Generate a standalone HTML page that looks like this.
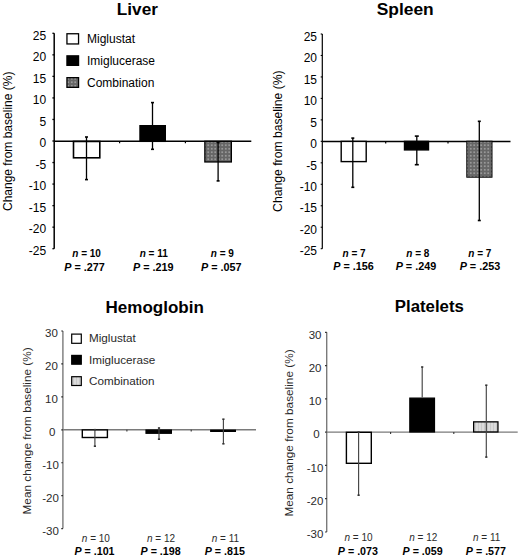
<!DOCTYPE html><html><head><meta charset="utf-8"><style>html,body{margin:0;padding:0;background:#fff;width:520px;height:559px;overflow:hidden}svg{display:block}text{font-family:"Liberation Sans", sans-serif}</style></head><body>
<svg width="520" height="559" viewBox="0 0 520 559">
<defs>
<pattern id="dk" width="3.5" height="3.5" patternUnits="userSpaceOnUse"><rect width="3.5" height="3.5" fill="#666"/><rect x="1" y="1" width="1.5" height="1.5" fill="#aaa"/></pattern>
<pattern id="lt" width="3" height="3" patternUnits="userSpaceOnUse"><rect width="3" height="3" fill="#dcdcdc"/><rect x="1" y="0" width="1" height="3" fill="#cacaca"/></pattern>
</defs>
<text x="137.4" y="15" font-size="17.2" font-weight="bold" text-anchor="middle" fill="#000" >Liver</text>
<line x1="54.2" y1="33.3" x2="54.2" y2="248.7" stroke="#000" stroke-width="1.5"/>
<line x1="52.400000000000006" y1="33.3" x2="54.2" y2="33.3" stroke="#000" stroke-width="1.3"/>
<text x="46.1" y="39.6" font-size="12" font-weight="normal" text-anchor="end" fill="#000" >25</text>
<line x1="52.400000000000006" y1="54.839999999999996" x2="54.2" y2="54.839999999999996" stroke="#000" stroke-width="1.3"/>
<text x="46.1" y="61.14" font-size="12" font-weight="normal" text-anchor="end" fill="#000" >20</text>
<line x1="52.400000000000006" y1="76.38" x2="54.2" y2="76.38" stroke="#000" stroke-width="1.3"/>
<text x="46.1" y="82.68" font-size="12" font-weight="normal" text-anchor="end" fill="#000" >15</text>
<line x1="52.400000000000006" y1="97.92" x2="54.2" y2="97.92" stroke="#000" stroke-width="1.3"/>
<text x="46.1" y="104.22" font-size="12" font-weight="normal" text-anchor="end" fill="#000" >10</text>
<line x1="52.400000000000006" y1="119.46" x2="54.2" y2="119.46" stroke="#000" stroke-width="1.3"/>
<text x="46.1" y="125.76" font-size="12" font-weight="normal" text-anchor="end" fill="#000" >5</text>
<line x1="52.400000000000006" y1="141.0" x2="54.2" y2="141.0" stroke="#000" stroke-width="1.3"/>
<text x="46.1" y="147.3" font-size="12" font-weight="normal" text-anchor="end" fill="#000" >0</text>
<line x1="52.400000000000006" y1="162.54000000000002" x2="54.2" y2="162.54000000000002" stroke="#000" stroke-width="1.3"/>
<text x="46.1" y="168.84" font-size="12" font-weight="normal" text-anchor="end" fill="#000" >-5</text>
<line x1="52.400000000000006" y1="184.07999999999998" x2="54.2" y2="184.07999999999998" stroke="#000" stroke-width="1.3"/>
<text x="46.1" y="190.38" font-size="12" font-weight="normal" text-anchor="end" fill="#000" >-10</text>
<line x1="52.400000000000006" y1="205.62" x2="54.2" y2="205.62" stroke="#000" stroke-width="1.3"/>
<text x="46.1" y="211.92" font-size="12" font-weight="normal" text-anchor="end" fill="#000" >-15</text>
<line x1="52.400000000000006" y1="227.15999999999997" x2="54.2" y2="227.15999999999997" stroke="#000" stroke-width="1.3"/>
<text x="46.1" y="233.46" font-size="12" font-weight="normal" text-anchor="end" fill="#000" >-20</text>
<line x1="52.400000000000006" y1="248.7" x2="54.2" y2="248.7" stroke="#000" stroke-width="1.3"/>
<text x="46.1" y="255.0" font-size="12" font-weight="normal" text-anchor="end" fill="#000" >-25</text>
<line x1="54.2" y1="141.35" x2="251.3" y2="141.35" stroke="#000" stroke-width="1.5"/>
<line x1="119.6" y1="141.35" x2="119.6" y2="143.35" stroke="#000" stroke-width="1.2"/>
<line x1="185.4" y1="141.35" x2="185.4" y2="143.35" stroke="#000" stroke-width="1.2"/>
<text transform="translate(12.3,141.3) rotate(-90)" x="0" y="0" font-size="12" text-anchor="middle">Change from baseline (%)</text>
<rect x="66.95" y="33.75" width="11.60" height="10.20" fill="#fff" stroke="#000" stroke-width="1.3"/>
<rect x="66.95" y="55.85" width="11.60" height="9.50" fill="#000" stroke="#000" stroke-width="1.3"/>
<rect x="66.95" y="77.65" width="11.60" height="9.70" fill="url(#dk)" stroke="#000" stroke-width="1.3"/>
<text x="87.0" y="43" font-size="12" font-weight="normal" text-anchor="start" fill="#000" >Miglustat</text>
<text x="87.0" y="65" font-size="12" font-weight="normal" text-anchor="start" fill="#000" >Imiglucerase</text>
<text x="87.0" y="87" font-size="12" font-weight="normal" text-anchor="start" fill="#000" >Combination</text>
<rect x="73.50" y="141.45" width="26.30" height="16.35" fill="#fff" stroke="#000" stroke-width="1.6"/>
<line x1="86.5" y1="137.0" x2="86.5" y2="179.6" stroke="#000" stroke-width="1.3"/>
<rect x="85.00" y="136.20" width="3" height="1.6" fill="#000"/>
<rect x="85.00" y="178.80" width="3" height="1.6" fill="#000"/>
<rect x="139.95" y="125.65" width="25.40" height="15.75" fill="#000" stroke="#000" stroke-width="1.3"/>
<line x1="152.5" y1="102.6" x2="152.5" y2="149.3" stroke="#000" stroke-width="1.3"/>
<rect x="151.00" y="101.80" width="3" height="1.6" fill="#000"/>
<rect x="151.00" y="148.50" width="3" height="1.6" fill="#000"/>
<rect x="204.85" y="141.30" width="26.50" height="20.65" fill="url(#dk)" stroke="#000" stroke-width="1.3"/>
<line x1="218.1" y1="142.5" x2="218.1" y2="180.9" stroke="#000" stroke-width="1.3"/>
<rect x="216.60" y="141.70" width="3" height="1.6" fill="#000"/>
<rect x="216.60" y="180.10" width="3" height="1.6" fill="#000"/>
<text x="86.60" y="257.3" font-size="10" font-weight="bold" text-anchor="middle"><tspan font-style="italic">n</tspan> = 10</text>
<text x="84.60" y="270.6" font-size="10.8" font-weight="bold" text-anchor="middle"><tspan font-style="italic">P</tspan> = .277</text>
<text x="153.70" y="257.3" font-size="10" font-weight="bold" text-anchor="middle"><tspan font-style="italic">n</tspan> = 11</text>
<text x="153.30" y="270.6" font-size="10.8" font-weight="bold" text-anchor="middle"><tspan font-style="italic">P</tspan> = .219</text>
<text x="222.30" y="257.3" font-size="10" font-weight="bold" text-anchor="middle"><tspan font-style="italic">n</tspan> = 9</text>
<text x="221.30" y="270.6" font-size="10.8" font-weight="bold" text-anchor="middle"><tspan font-style="italic">P</tspan> = .057</text>
<text x="405.2" y="14.6" font-size="17.4" font-weight="bold" text-anchor="middle" fill="#000" >Spleen</text>
<line x1="322.3" y1="34.0" x2="322.3" y2="248.7" stroke="#000" stroke-width="1.2"/>
<line x1="320.7" y1="34.0" x2="322.3" y2="34.0" stroke="#000" stroke-width="1.1"/>
<text x="317.0" y="40.7" font-size="12" font-weight="normal" text-anchor="end" fill="#000" >25</text>
<line x1="320.7" y1="55.47" x2="322.3" y2="55.47" stroke="#000" stroke-width="1.1"/>
<text x="317.0" y="62.17" font-size="12" font-weight="normal" text-anchor="end" fill="#000" >20</text>
<line x1="320.7" y1="76.94" x2="322.3" y2="76.94" stroke="#000" stroke-width="1.1"/>
<text x="317.0" y="83.64" font-size="12" font-weight="normal" text-anchor="end" fill="#000" >15</text>
<line x1="320.7" y1="98.41" x2="322.3" y2="98.41" stroke="#000" stroke-width="1.1"/>
<text x="317.0" y="105.11" font-size="12" font-weight="normal" text-anchor="end" fill="#000" >10</text>
<line x1="320.7" y1="119.88" x2="322.3" y2="119.88" stroke="#000" stroke-width="1.1"/>
<text x="317.0" y="126.58" font-size="12" font-weight="normal" text-anchor="end" fill="#000" >5</text>
<line x1="320.7" y1="141.35" x2="322.3" y2="141.35" stroke="#000" stroke-width="1.1"/>
<text x="317.0" y="148.05" font-size="12" font-weight="normal" text-anchor="end" fill="#000" >0</text>
<line x1="320.7" y1="162.82" x2="322.3" y2="162.82" stroke="#000" stroke-width="1.1"/>
<text x="317.0" y="169.52" font-size="12" font-weight="normal" text-anchor="end" fill="#000" >-5</text>
<line x1="320.7" y1="184.29" x2="322.3" y2="184.29" stroke="#000" stroke-width="1.1"/>
<text x="317.0" y="190.99" font-size="12" font-weight="normal" text-anchor="end" fill="#000" >-10</text>
<line x1="320.7" y1="205.76" x2="322.3" y2="205.76" stroke="#000" stroke-width="1.1"/>
<text x="317.0" y="212.46" font-size="12" font-weight="normal" text-anchor="end" fill="#000" >-15</text>
<line x1="320.7" y1="227.23" x2="322.3" y2="227.23" stroke="#000" stroke-width="1.1"/>
<text x="317.0" y="233.93" font-size="12" font-weight="normal" text-anchor="end" fill="#000" >-20</text>
<line x1="320.7" y1="248.7" x2="322.3" y2="248.7" stroke="#000" stroke-width="1.1"/>
<text x="317.0" y="255.4" font-size="12" font-weight="normal" text-anchor="end" fill="#000" >-25</text>
<line x1="322.3" y1="141.4" x2="510.5" y2="141.4" stroke="#000" stroke-width="1.5"/>
<line x1="385.7" y1="141.4" x2="385.7" y2="143.4" stroke="#000" stroke-width="1.2"/>
<line x1="448.0" y1="141.4" x2="448.0" y2="143.4" stroke="#000" stroke-width="1.2"/>
<text transform="translate(281.5,141.1) rotate(-90)" x="0" y="0" font-size="12.2" text-anchor="middle">Change from baseline (%)</text>
<rect x="341.20" y="141.40" width="25.00" height="20.20" fill="#fff" stroke="#000" stroke-width="1.4"/>
<line x1="352.8" y1="138.1" x2="352.8" y2="187.3" stroke="#000" stroke-width="1.3"/>
<rect x="351.30" y="137.30" width="3" height="1.6" fill="#000"/>
<rect x="351.30" y="186.50" width="3" height="1.6" fill="#000"/>
<rect x="404.45" y="141.35" width="24.10" height="8.60" fill="#000" stroke="#000" stroke-width="1.3"/>
<line x1="416.8" y1="136.1" x2="416.8" y2="164.7" stroke="#000" stroke-width="1.3"/>
<rect x="414.80" y="135.30" width="4" height="1.6" fill="#000"/>
<rect x="414.80" y="163.90" width="4" height="1.6" fill="#000"/>
<rect x="466.80" y="141.20" width="25.20" height="36.00" fill="url(#dk)" stroke="#000" stroke-width="1.0"/>
<line x1="479.3" y1="121.3" x2="479.3" y2="220.5" stroke="#000" stroke-width="1.3"/>
<rect x="477.80" y="120.50" width="3" height="1.6" fill="#000"/>
<rect x="477.80" y="219.70" width="3" height="1.6" fill="#000"/>
<text x="354.10" y="257.3" font-size="10" font-weight="bold" text-anchor="middle"><tspan font-style="italic">n</tspan> = 7</text>
<text x="353.60" y="270.3" font-size="10.8" font-weight="bold" text-anchor="middle"><tspan font-style="italic">P</tspan> = .156</text>
<text x="417.80" y="257.3" font-size="10" font-weight="bold" text-anchor="middle"><tspan font-style="italic">n</tspan> = 8</text>
<text x="415.90" y="270.3" font-size="10.8" font-weight="bold" text-anchor="middle"><tspan font-style="italic">P</tspan> = .249</text>
<text x="479.90" y="257.3" font-size="10" font-weight="bold" text-anchor="middle"><tspan font-style="italic">n</tspan> = 7</text>
<text x="479.90" y="270.3" font-size="10.8" font-weight="bold" text-anchor="middle"><tspan font-style="italic">P</tspan> = .253</text>
<text x="154.7" y="312.5" font-size="17" font-weight="bold" text-anchor="middle" fill="#000" >Hemoglobin</text>
<line x1="62.9" y1="331.0" x2="62.9" y2="528.6" stroke="#7a7a7a" stroke-width="1.4"/>
<line x1="61.3" y1="331.0" x2="62.9" y2="331.0" stroke="#222" stroke-width="1.2"/>
<text x="57.9" y="337.2" font-size="11.5" font-weight="normal" text-anchor="end" fill="#2a2a2a" >30</text>
<line x1="61.3" y1="363.93333333333334" x2="62.9" y2="363.93333333333334" stroke="#222" stroke-width="1.2"/>
<text x="57.9" y="370.13" font-size="11.5" font-weight="normal" text-anchor="end" fill="#2a2a2a" >20</text>
<line x1="61.3" y1="396.8666666666667" x2="62.9" y2="396.8666666666667" stroke="#222" stroke-width="1.2"/>
<text x="57.9" y="403.07" font-size="11.5" font-weight="normal" text-anchor="end" fill="#2a2a2a" >10</text>
<line x1="61.3" y1="429.8" x2="62.9" y2="429.8" stroke="#222" stroke-width="1.2"/>
<text x="55.5" y="436.0" font-size="11.5" font-weight="normal" text-anchor="end" fill="#2a2a2a" >0</text>
<line x1="61.3" y1="462.73333333333335" x2="62.9" y2="462.73333333333335" stroke="#222" stroke-width="1.2"/>
<text x="58.9" y="468.93" font-size="11.5" font-weight="normal" text-anchor="end" fill="#2a2a2a" >-10</text>
<line x1="61.3" y1="495.6666666666667" x2="62.9" y2="495.6666666666667" stroke="#222" stroke-width="1.2"/>
<text x="58.9" y="501.87" font-size="11.5" font-weight="normal" text-anchor="end" fill="#2a2a2a" >-20</text>
<line x1="61.3" y1="528.6" x2="62.9" y2="528.6" stroke="#222" stroke-width="1.2"/>
<text x="58.9" y="534.8" font-size="11.5" font-weight="normal" text-anchor="end" fill="#2a2a2a" >-30</text>
<line x1="62.9" y1="429.7" x2="256" y2="429.7" stroke="#7a7a7a" stroke-width="1.4"/>
<line x1="126.9" y1="429.7" x2="126.9" y2="431.5" stroke="#333" stroke-width="1.1"/>
<line x1="191.2" y1="429.7" x2="191.2" y2="431.5" stroke="#333" stroke-width="1.1"/>
<text transform="translate(31.4,430.9) rotate(-90)" x="0" y="0" font-size="11.8" text-anchor="middle" fill="#2a2a2a">Mean change from baseline (%)</text>
<rect x="71.70" y="334.10" width="9.60" height="9.20" fill="#fff" stroke="#000" stroke-width="1.2"/>
<rect x="71.70" y="355.40" width="9.60" height="8.80" fill="#000" stroke="#000" stroke-width="1.2"/>
<rect x="71.70" y="376.70" width="9.60" height="8.80" fill="url(#lt)" stroke="#000" stroke-width="1.2"/>
<text x="89.0" y="342.4" font-size="11.7" font-weight="normal" text-anchor="start" fill="#2a2a2a" >Miglustat</text>
<text x="89.0" y="363.5" font-size="11.7" font-weight="normal" text-anchor="start" fill="#2a2a2a" >Imiglucerase</text>
<text x="89.0" y="384.6" font-size="11.7" font-weight="normal" text-anchor="start" fill="#2a2a2a" >Combination</text>
<rect x="82.30" y="429.90" width="25.10" height="7.60" fill="#fff" stroke="#000" stroke-width="1.4"/>
<line x1="94.9" y1="429.7" x2="94.9" y2="446.2" stroke="#444" stroke-width="1.15"/>
<rect x="93.80" y="428.90" width="2.2" height="1.6" fill="#333"/>
<rect x="93.80" y="445.40" width="2.2" height="1.6" fill="#333"/>
<rect x="146.05" y="430.05" width="25.30" height="3.20" fill="#000" stroke="#000" stroke-width="1.3"/>
<line x1="159.0" y1="428.0" x2="159.0" y2="439.2" stroke="#444" stroke-width="1.15"/>
<rect x="157.90" y="427.20" width="2.2" height="1.6" fill="#333"/>
<rect x="157.90" y="438.40" width="2.2" height="1.6" fill="#333"/>
<rect x="210.10" y="429.60" width="25.90" height="2.40" fill="#000"/>
<line x1="223.4" y1="419.2" x2="223.4" y2="443.8" stroke="#444" stroke-width="1.15"/>
<rect x="222.30" y="418.40" width="2.2" height="1.6" fill="#333"/>
<rect x="222.30" y="443.00" width="2.2" height="1.6" fill="#333"/>
<text x="95.90" y="541.9" font-size="10" text-anchor="middle" fill="#2a2a2a"><tspan font-style="italic">n</tspan> = 10</text>
<text x="94.50" y="555.1" font-size="10.7" font-weight="bold" text-anchor="middle"><tspan font-style="italic">P</tspan> = .101</text>
<text x="161.00" y="541.9" font-size="10" text-anchor="middle" fill="#2a2a2a"><tspan font-style="italic">n</tspan> = 12</text>
<text x="160.60" y="555.1" font-size="10.7" font-weight="bold" text-anchor="middle"><tspan font-style="italic">P</tspan> = .198</text>
<text x="225.40" y="541.9" font-size="10" text-anchor="middle" fill="#2a2a2a"><tspan font-style="italic">n</tspan> = 11</text>
<text x="224.80" y="555.1" font-size="10.7" font-weight="bold" text-anchor="middle"><tspan font-style="italic">P</tspan> = .815</text>
<text x="429.3" y="311.6" font-size="16.8" font-weight="bold" text-anchor="middle" fill="#000" >Platelets</text>
<line x1="326.7" y1="332.3" x2="326.7" y2="532.0" stroke="#7a7a7a" stroke-width="1.4"/>
<line x1="325.09999999999997" y1="332.3" x2="326.7" y2="332.3" stroke="#222" stroke-width="1.2"/>
<text x="321.5" y="338.6" font-size="11.5" font-weight="normal" text-anchor="end" fill="#2a2a2a" >30</text>
<line x1="325.09999999999997" y1="365.58333333333337" x2="326.7" y2="365.58333333333337" stroke="#222" stroke-width="1.2"/>
<text x="321.5" y="371.88" font-size="11.5" font-weight="normal" text-anchor="end" fill="#2a2a2a" >20</text>
<line x1="325.09999999999997" y1="398.8666666666667" x2="326.7" y2="398.8666666666667" stroke="#222" stroke-width="1.2"/>
<text x="321.5" y="405.17" font-size="11.5" font-weight="normal" text-anchor="end" fill="#2a2a2a" >10</text>
<line x1="325.09999999999997" y1="432.15" x2="326.7" y2="432.15" stroke="#222" stroke-width="1.2"/>
<text x="319.6" y="438.45" font-size="11.5" font-weight="normal" text-anchor="end" fill="#2a2a2a" >0</text>
<line x1="325.09999999999997" y1="465.43333333333334" x2="326.7" y2="465.43333333333334" stroke="#222" stroke-width="1.2"/>
<text x="323.4" y="471.73" font-size="11.5" font-weight="normal" text-anchor="end" fill="#2a2a2a" >-10</text>
<line x1="325.09999999999997" y1="498.7166666666667" x2="326.7" y2="498.7166666666667" stroke="#222" stroke-width="1.2"/>
<text x="323.4" y="505.02" font-size="11.5" font-weight="normal" text-anchor="end" fill="#2a2a2a" >-20</text>
<line x1="325.09999999999997" y1="532.0" x2="326.7" y2="532.0" stroke="#222" stroke-width="1.2"/>
<text x="323.4" y="538.3" font-size="11.5" font-weight="normal" text-anchor="end" fill="#2a2a2a" >-30</text>
<line x1="326.7" y1="432.1" x2="517.7" y2="432.1" stroke="#7a7a7a" stroke-width="1.4"/>
<line x1="390.6" y1="432.1" x2="390.6" y2="433.90000000000003" stroke="#333" stroke-width="1.1"/>
<line x1="453.8" y1="432.1" x2="453.8" y2="433.90000000000003" stroke="#333" stroke-width="1.1"/>
<text transform="translate(292.5,433.0) rotate(-90)" x="0" y="0" font-size="11.8" text-anchor="middle" fill="#2a2a2a">Mean change from baseline (%)</text>
<rect x="346.40" y="432.30" width="24.90" height="31.00" fill="#fff" stroke="#000" stroke-width="1.4"/>
<line x1="358.6" y1="432.1" x2="358.6" y2="495.2" stroke="#444" stroke-width="1.15"/>
<rect x="357.50" y="431.30" width="2.2" height="1.6" fill="#333"/>
<rect x="357.50" y="494.40" width="2.2" height="1.6" fill="#333"/>
<rect x="409.85" y="398.15" width="24.60" height="33.80" fill="#000" stroke="#000" stroke-width="1.3"/>
<line x1="422.2" y1="367.0" x2="422.2" y2="397.5" stroke="#444" stroke-width="1.15"/>
<rect x="421.10" y="366.20" width="2.2" height="1.6" fill="#333"/>
<rect x="473.65" y="421.85" width="24.30" height="10.10" fill="url(#lt)" stroke="#000" stroke-width="1.3"/>
<line x1="486.3" y1="385.2" x2="486.3" y2="457.1" stroke="#444" stroke-width="1.15"/>
<rect x="485.20" y="384.40" width="2.2" height="1.6" fill="#333"/>
<rect x="485.20" y="456.30" width="2.2" height="1.6" fill="#333"/>
<text x="358.50" y="541.3" font-size="10" text-anchor="middle" fill="#2a2a2a"><tspan font-style="italic">n</tspan> = 10</text>
<text x="357.90" y="554.5" font-size="10.7" font-weight="bold" text-anchor="middle"><tspan font-style="italic">P</tspan> = .073</text>
<text x="423.30" y="541.3" font-size="10" text-anchor="middle" fill="#2a2a2a"><tspan font-style="italic">n</tspan> = 12</text>
<text x="422.60" y="554.5" font-size="10.7" font-weight="bold" text-anchor="middle"><tspan font-style="italic">P</tspan> = .059</text>
<text x="486.60" y="541.3" font-size="10" text-anchor="middle" fill="#2a2a2a"><tspan font-style="italic">n</tspan> = 11</text>
<text x="485.90" y="554.5" font-size="10.7" font-weight="bold" text-anchor="middle"><tspan font-style="italic">P</tspan> = .577</text>
</svg></body></html>
